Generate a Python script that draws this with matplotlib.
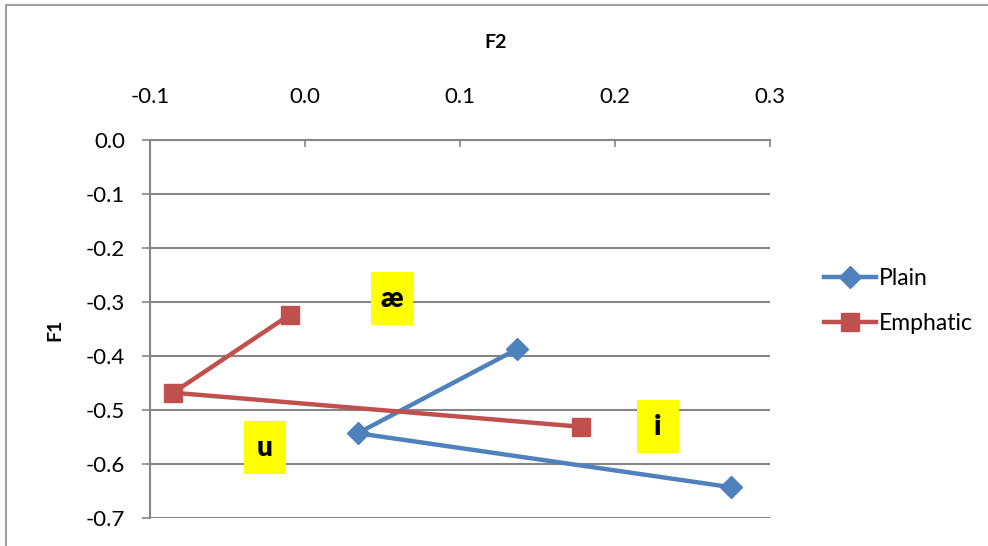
import matplotlib
matplotlib.use("Agg")
import matplotlib.pyplot as plt
from matplotlib.patches import Rectangle

plt.rcParams['font.family'] = ['Lato', 'DejaVu Sans']

# Data (F2 on x, F1 on y)
plain_f2 = [0.137, 0.034, 0.275]
plain_f1 = [-0.387, -0.543, -0.643]
emph_f2 = [-0.010, -0.085, 0.178]
emph_f1 = [-0.324, -0.468, -0.531]

vowels = ["æ", "u", "i"]
vowel_x = [0.0561, -0.0258, 0.2277]
vowel_y = [-0.294, -0.570, -0.531]

x_ticks = [-0.1, 0.0, 0.1, 0.2, 0.3]
y_ticks = [0.0, -0.1, -0.2, -0.3, -0.4, -0.5, -0.6, -0.7]

BLUE = "#4F81BD"
RED = "#C0504D"
GRID = "#868686"

W, H = 988, 546
fig = plt.figure(figsize=(W / 100, H / 100), dpi=100)
ax = fig.add_axes([150 / W, 1 - 518 / H, 620 / W, 378 / H])

ax.set_xlim(-0.1, 0.3)
ax.set_ylim(-0.7, 0.0)

for y in y_ticks:
    ax.axhline(y, color=GRID, lw=1.5, zorder=1)

l1, = ax.plot(plain_f2, plain_f1, color=BLUE, lw=3.2, marker='D', ms=11,
              label="Plain", zorder=3)
l2, = ax.plot(emph_f2, emph_f1, color=RED, lw=3.2, marker='s', ms=13,
              label="Emphatic", zorder=3)

for s in ['right', 'bottom']:
    ax.spines[s].set_visible(False)
for s in ['top', 'left']:
    ax.spines[s].set_color(GRID)
    ax.spines[s].set_linewidth(1.5)

ax.xaxis.set_ticks_position('top')
ax.xaxis.set_label_position('top')
ax.set_xticks(x_ticks)
ax.set_xticklabels([f"{v:.1f}" for v in x_ticks])
ax.tick_params(axis='x', direction='in', length=5, width=1.2, color=GRID,
               pad=24, labelsize=16)
ax.set_yticks(y_ticks)
ax.set_yticklabels([f"{v:.1f}" for v in y_ticks])
ax.tick_params(axis='y', direction='out', length=6, width=1.2, color=GRID,
               pad=12, labelsize=16)

# vowel labels with yellow boxes
bw = 42 / 620 * 0.4
bh = 53 / 378 * 0.7
for t, x, y in zip(vowels, vowel_x, vowel_y):
    ax.add_patch(Rectangle((x - bw / 2, y - bh / 2), bw, bh,
                           facecolor="#FFFF00", edgecolor='none', zorder=4))
    ax.text(x, y, t, ha='center', va='center', fontsize=20,
            fontweight='heavy', zorder=5)

fig.text(496 / W, 1 - 42 / H, "F2", ha='center', va='center',
         fontsize=14, fontweight='bold')
fig.text(55 / W, 1 - 330 / H, "F1", ha='center', va='center',
         fontsize=14, fontweight='bold', rotation=90)

fig.legend(handles=[l1, l2], loc='upper left',
           bbox_to_anchor=(803 / W, 1 - 247 / H), frameon=False,
           fontsize=16.5, handlelength=2.3, handletextpad=0.1,
           labelspacing=1.05)

# outer chart frame
fig.patches.append(Rectangle((6 / W, -0.1), 2.0, 1 - 5 / H + 0.1,
                             transform=fig.transFigure, fill=False,
                             edgecolor="#A0A0A0", lw=1.5))

fig.savefig("out.png", dpi=100)
